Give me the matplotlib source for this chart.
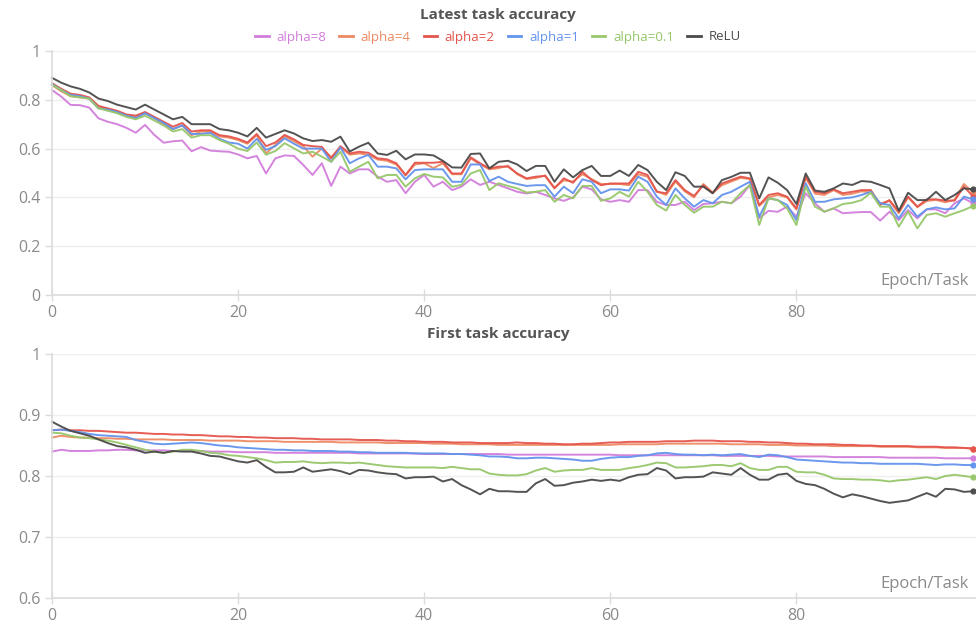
"""Latest / first task accuracy over epochs for several activation settings."""

import matplotlib
matplotlib.use('Agg')
import matplotlib.pyplot as plt
from matplotlib.lines import Line2D
import numpy

EPOCHS = numpy.arange(100)

LABELS = ['alpha=8', 'alpha=4', 'alpha=2', 'alpha=1', 'alpha=0.1', 'ReLU']
COLORS = ['#d27ddb', '#ec8a63', '#e4544c', '#6393ec', '#97c76a', '#4a4a4a']

# latest task accuracy
LATEST_A8 = [
    0.84, 0.813, 0.779, 0.778, 0.768, 0.724, 0.71, 0.70, 0.685, 0.665,
    0.697, 0.656, 0.624, 0.63, 0.633, 0.589, 0.606, 0.592, 0.589, 0.587,
    0.576, 0.56, 0.57, 0.498, 0.56, 0.572, 0.57, 0.533, 0.492, 0.54,
    0.447, 0.526, 0.498, 0.515, 0.515, 0.485, 0.464, 0.471, 0.417, 0.464,
    0.492, 0.444, 0.464, 0.43, 0.444, 0.474, 0.451, 0.464, 0.451, 0.437,
    0.423, 0.416, 0.423, 0.41, 0.396, 0.386, 0.40, 0.444, 0.433, 0.392,
    0.382, 0.389, 0.382, 0.43, 0.43, 0.382, 0.369, 0.369, 0.382, 0.348,
    0.373, 0.376, 0.382, 0.376, 0.403, 0.451, 0.314, 0.345, 0.341, 0.362,
    0.321, 0.417, 0.376, 0.341, 0.355, 0.335, 0.338, 0.34, 0.34, 0.305,
    0.341, 0.307, 0.348, 0.314, 0.351, 0.351, 0.335, 0.376, 0.396, 0.376]
LATEST_A4 = [
    0.86, 0.835, 0.815, 0.81, 0.805, 0.77, 0.76, 0.75, 0.735, 0.73,
    0.745, 0.725, 0.70, 0.68, 0.695, 0.655, 0.67, 0.67, 0.65, 0.645,
    0.635, 0.62, 0.655, 0.58, 0.615, 0.65, 0.63, 0.61, 0.567, 0.60,
    0.565, 0.605, 0.575, 0.58, 0.575, 0.555, 0.55, 0.535, 0.49, 0.535,
    0.54, 0.52, 0.54, 0.495, 0.495, 0.56, 0.535, 0.515, 0.52, 0.53,
    0.495, 0.475, 0.48, 0.49, 0.44, 0.47, 0.465, 0.495, 0.475, 0.455,
    0.455, 0.455, 0.45, 0.495, 0.485, 0.425, 0.41, 0.465, 0.425, 0.40,
    0.455, 0.42, 0.45, 0.465, 0.48, 0.475, 0.365, 0.40, 0.41, 0.40,
    0.35, 0.48, 0.415, 0.41, 0.43, 0.41, 0.415, 0.425, 0.42, 0.375,
    0.385, 0.335, 0.40, 0.36, 0.385, 0.39, 0.38, 0.39, 0.455, 0.42]
LATEST_A2 = [
    0.868, 0.845, 0.825, 0.82, 0.81, 0.775, 0.765, 0.755, 0.74, 0.735,
    0.75, 0.73, 0.71, 0.69, 0.705, 0.67, 0.675, 0.675, 0.655, 0.65,
    0.64, 0.625, 0.66, 0.61, 0.625, 0.656, 0.638, 0.615, 0.61, 0.607,
    0.56, 0.61, 0.58, 0.587, 0.583, 0.56, 0.556, 0.54, 0.492, 0.542,
    0.542, 0.542, 0.546, 0.498, 0.498, 0.564, 0.54, 0.519, 0.526, 0.526,
    0.498, 0.478, 0.485, 0.488, 0.437, 0.478, 0.46, 0.505, 0.471, 0.45,
    0.457, 0.457, 0.457, 0.505, 0.492, 0.423, 0.417, 0.471, 0.43, 0.406,
    0.45, 0.417, 0.457, 0.471, 0.485, 0.478, 0.369, 0.41, 0.417, 0.403,
    0.355, 0.485, 0.423, 0.417, 0.433, 0.417, 0.423, 0.43, 0.43, 0.369,
    0.389, 0.342, 0.403, 0.362, 0.392, 0.392, 0.387, 0.387, 0.444, 0.403]
LATEST_A1 = [
    0.865, 0.84, 0.82, 0.815, 0.805, 0.765, 0.76, 0.75, 0.735, 0.725,
    0.745, 0.725, 0.705, 0.68, 0.695, 0.66, 0.66, 0.665, 0.64, 0.625,
    0.62, 0.60, 0.64, 0.595, 0.61, 0.642, 0.62, 0.60, 0.60, 0.60,
    0.546, 0.605, 0.54, 0.56, 0.574, 0.526, 0.526, 0.519, 0.474, 0.512,
    0.515, 0.515, 0.515, 0.464, 0.464, 0.535, 0.535, 0.467, 0.485, 0.464,
    0.455, 0.447, 0.45, 0.45, 0.403, 0.444, 0.417, 0.474, 0.464, 0.417,
    0.433, 0.433, 0.428, 0.485, 0.464, 0.403, 0.369, 0.437, 0.396, 0.362,
    0.389, 0.376, 0.41, 0.423, 0.444, 0.464, 0.321, 0.396, 0.389, 0.369,
    0.307, 0.458, 0.382, 0.382, 0.392, 0.396, 0.40, 0.41, 0.423, 0.376,
    0.369, 0.314, 0.369, 0.321, 0.351, 0.359, 0.351, 0.355, 0.403, 0.392]
LATEST_A01 = [
    0.862, 0.84, 0.815, 0.81, 0.805, 0.765, 0.755, 0.745, 0.73, 0.72,
    0.735, 0.715, 0.695, 0.67, 0.68, 0.645, 0.655, 0.655, 0.635, 0.62,
    0.60, 0.59, 0.625, 0.575, 0.59, 0.622, 0.601, 0.58, 0.587, 0.567,
    0.546, 0.587, 0.505, 0.526, 0.546, 0.478, 0.492, 0.492, 0.444, 0.478,
    0.496, 0.485, 0.482, 0.444, 0.451, 0.498, 0.512, 0.43, 0.458, 0.447,
    0.437, 0.42, 0.423, 0.43, 0.382, 0.41, 0.396, 0.447, 0.447, 0.386,
    0.396, 0.423, 0.403, 0.464, 0.423, 0.369, 0.346, 0.41, 0.369, 0.337,
    0.362, 0.362, 0.382, 0.376, 0.417, 0.451, 0.287, 0.396, 0.389, 0.355,
    0.287, 0.444, 0.362, 0.342, 0.355, 0.373, 0.378, 0.389, 0.419, 0.362,
    0.362, 0.28, 0.342, 0.273, 0.328, 0.335, 0.321, 0.335, 0.348, 0.365]
LATEST_RELU = [
    0.89, 0.87, 0.855, 0.845, 0.83, 0.805, 0.795, 0.78, 0.77, 0.76,
    0.78, 0.76, 0.74, 0.72, 0.73, 0.70, 0.70, 0.70, 0.68, 0.675,
    0.665, 0.65, 0.685, 0.645, 0.66, 0.675, 0.662, 0.642, 0.631, 0.635,
    0.628, 0.649, 0.588, 0.608, 0.624, 0.58, 0.574, 0.591, 0.556, 0.576,
    0.576, 0.572, 0.55, 0.523, 0.522, 0.578, 0.58, 0.519, 0.546, 0.55,
    0.535, 0.508, 0.529, 0.529, 0.464, 0.515, 0.482, 0.512, 0.529, 0.488,
    0.488, 0.51, 0.488, 0.533, 0.512, 0.464, 0.43, 0.503, 0.488, 0.444,
    0.444, 0.417, 0.471, 0.484, 0.501, 0.501, 0.396, 0.482, 0.46, 0.43,
    0.373, 0.498, 0.428, 0.423, 0.437, 0.457, 0.451, 0.467, 0.464, 0.451,
    0.437, 0.345, 0.419, 0.389, 0.389, 0.423, 0.389, 0.41, 0.437, 0.433]

# first task accuracy
FIRST_A8 = [
    0.840, 0.843, 0.841, 0.841, 0.841, 0.842, 0.842, 0.843, 0.843, 0.842,
    0.842, 0.842, 0.842, 0.841, 0.841, 0.841, 0.841, 0.840, 0.840, 0.840,
    0.839, 0.839, 0.839, 0.839, 0.838, 0.838, 0.838, 0.838, 0.838, 0.838,
    0.838, 0.838, 0.838, 0.837, 0.837, 0.837, 0.837, 0.837, 0.837, 0.837,
    0.836, 0.836, 0.836, 0.836, 0.836, 0.836, 0.836, 0.836, 0.836, 0.835,
    0.835, 0.835, 0.835, 0.835, 0.835, 0.835, 0.835, 0.835, 0.835, 0.835,
    0.835, 0.834, 0.834, 0.834, 0.834, 0.834, 0.834, 0.834, 0.834, 0.834,
    0.834, 0.834, 0.833, 0.833, 0.833, 0.833, 0.833, 0.833, 0.832, 0.832,
    0.832, 0.832, 0.832, 0.832, 0.831, 0.831, 0.831, 0.831, 0.831, 0.831,
    0.830, 0.830, 0.830, 0.830, 0.830, 0.830, 0.829, 0.829, 0.829, 0.829]
FIRST_A4 = [
    0.863, 0.866, 0.864, 0.863, 0.863, 0.862, 0.862, 0.861, 0.861, 0.860,
    0.860, 0.860, 0.860, 0.859, 0.859, 0.859, 0.859, 0.858, 0.858, 0.858,
    0.858, 0.857, 0.857, 0.857, 0.857, 0.856, 0.856, 0.856, 0.856, 0.856,
    0.856, 0.855, 0.855, 0.855, 0.855, 0.855, 0.854, 0.854, 0.854, 0.854,
    0.854, 0.853, 0.853, 0.853, 0.852, 0.852, 0.852, 0.852, 0.851, 0.851,
    0.851, 0.851, 0.851, 0.851, 0.851, 0.851, 0.851, 0.851, 0.851, 0.851,
    0.851, 0.852, 0.852, 0.852, 0.852, 0.852, 0.853, 0.853, 0.853, 0.853,
    0.853, 0.853, 0.853, 0.852, 0.852, 0.852, 0.852, 0.851, 0.851, 0.851,
    0.850, 0.850, 0.850, 0.850, 0.849, 0.849, 0.849, 0.849, 0.849, 0.848,
    0.848, 0.848, 0.848, 0.847, 0.847, 0.847, 0.846, 0.846, 0.846, 0.845]
FIRST_A2 = [
    0.875, 0.876, 0.875, 0.875, 0.874, 0.874, 0.873, 0.872, 0.871, 0.871,
    0.870, 0.869, 0.869, 0.868, 0.868, 0.867, 0.867, 0.866, 0.865, 0.865,
    0.864, 0.864, 0.863, 0.863, 0.862, 0.862, 0.862, 0.861, 0.861, 0.860,
    0.860, 0.860, 0.860, 0.859, 0.859, 0.859, 0.858, 0.858, 0.857, 0.857,
    0.856, 0.856, 0.856, 0.855, 0.855, 0.855, 0.854, 0.854, 0.854, 0.854,
    0.855, 0.854, 0.854, 0.853, 0.853, 0.852, 0.852, 0.853, 0.853, 0.854,
    0.855, 0.855, 0.856, 0.856, 0.856, 0.856, 0.857, 0.857, 0.857, 0.858,
    0.858, 0.858, 0.857, 0.857, 0.857, 0.856, 0.856, 0.855, 0.855, 0.854,
    0.853, 0.853, 0.852, 0.852, 0.852, 0.851, 0.851, 0.850, 0.850, 0.849,
    0.849, 0.849, 0.849, 0.848, 0.848, 0.848, 0.847, 0.847, 0.846, 0.845]
FIRST_A1 = [
    0.875, 0.876, 0.874, 0.872, 0.869, 0.867, 0.866, 0.865, 0.864, 0.859,
    0.856, 0.853, 0.852, 0.853, 0.854, 0.855, 0.854, 0.852, 0.850, 0.849,
    0.847, 0.846, 0.845, 0.844, 0.843, 0.843, 0.842, 0.842, 0.841, 0.841,
    0.841, 0.840, 0.840, 0.839, 0.839, 0.838, 0.838, 0.838, 0.838, 0.837,
    0.837, 0.837, 0.837, 0.836, 0.836, 0.835, 0.834, 0.832, 0.832, 0.831,
    0.829, 0.829, 0.830, 0.830, 0.829, 0.828, 0.827, 0.825, 0.825, 0.828,
    0.830, 0.831, 0.831, 0.833, 0.834, 0.837, 0.838, 0.836, 0.835, 0.835,
    0.834, 0.835, 0.834, 0.835, 0.836, 0.833, 0.831, 0.835, 0.834, 0.831,
    0.827, 0.826, 0.825, 0.824, 0.823, 0.822, 0.822, 0.821, 0.821, 0.820,
    0.820, 0.820, 0.820, 0.820, 0.819, 0.818, 0.819, 0.819, 0.818, 0.818]
FIRST_A01 = [
    0.871, 0.870, 0.866, 0.863, 0.862, 0.860, 0.858, 0.855, 0.851, 0.847,
    0.843, 0.840, 0.838, 0.840, 0.843, 0.843, 0.841, 0.838, 0.837, 0.834,
    0.833, 0.831, 0.829, 0.826, 0.822, 0.823, 0.823, 0.824, 0.822, 0.821,
    0.822, 0.822, 0.821, 0.822, 0.820, 0.818, 0.816, 0.815, 0.814, 0.814,
    0.814, 0.814, 0.813, 0.815, 0.813, 0.811, 0.811, 0.804, 0.802, 0.801,
    0.801, 0.803, 0.809, 0.813, 0.807, 0.809, 0.810, 0.810, 0.813, 0.810,
    0.810, 0.810, 0.813, 0.815, 0.818, 0.822, 0.821, 0.814, 0.814, 0.815,
    0.816, 0.818, 0.818, 0.816, 0.821, 0.813, 0.810, 0.810, 0.815, 0.815,
    0.807, 0.806, 0.806, 0.802, 0.796, 0.795, 0.795, 0.794, 0.794, 0.793,
    0.791, 0.793, 0.794, 0.796, 0.798, 0.795, 0.800, 0.802, 0.800, 0.798]
FIRST_RELU = [
    0.889, 0.881, 0.874, 0.870, 0.866, 0.860, 0.854, 0.849, 0.847, 0.843,
    0.838, 0.840, 0.838, 0.841, 0.840, 0.840, 0.837, 0.833, 0.832, 0.828,
    0.824, 0.822, 0.826, 0.815, 0.806, 0.806, 0.807, 0.814, 0.807, 0.809,
    0.811, 0.808, 0.803, 0.810, 0.809, 0.806, 0.804, 0.803, 0.796, 0.798,
    0.798, 0.799, 0.791, 0.795, 0.785, 0.778, 0.770, 0.779, 0.775, 0.775,
    0.774, 0.774, 0.788, 0.795, 0.784, 0.785, 0.789, 0.791, 0.794, 0.792,
    0.794, 0.792, 0.798, 0.802, 0.803, 0.813, 0.809, 0.796, 0.798, 0.798,
    0.799, 0.806, 0.804, 0.802, 0.813, 0.802, 0.794, 0.794, 0.802, 0.804,
    0.792, 0.787, 0.785, 0.779, 0.771, 0.765, 0.770, 0.767, 0.763, 0.759,
    0.756, 0.758, 0.760, 0.766, 0.772, 0.766, 0.779, 0.778, 0.774, 0.775]

LATEST = [LATEST_A8, LATEST_A4, LATEST_A2, LATEST_A1, LATEST_A01, LATEST_RELU]
FIRST = [FIRST_A8, FIRST_A4, FIRST_A2, FIRST_A1, FIRST_A01, FIRST_RELU]

plt.rcParams['font.family'] = ['Open Sans', 'DejaVu Sans']
TICK_COLOR = '#8a8a8a'
AXIS_COLOR = '#dcdcdc'


def _format_ax(ax, ymin, ystep):
    """Common look of both panels."""
    ax.set_xlim(0, 99.3)
    ax.set_ylim(ymin, 1.0)
    ax.set_xticks(numpy.arange(0, 100, 20))
    ax.set_yticks(numpy.arange(ymin, 1.0001, ystep))
    ax.set_yticklabels(['%g' % round(v, 2) for v in ax.get_yticks()])
    for side in ('top', 'right'):
        ax.spines[side].set_visible(False)
    for side in ('left', 'bottom'):
        ax.spines[side].set_color(AXIS_COLOR)
        ax.spines[side].set_linewidth(1.2)
    ax.tick_params(axis='both', colors=AXIS_COLOR, labelcolor=TICK_COLOR,
                   labelsize=11.5, width=1, length=5)
    ax.tick_params(axis='x', direction='inout', length=8, pad=3)
    ax.grid(True, axis='y', color='#efefef', linewidth=1)
    ax.set_axisbelow(True)
    ax.text(0.992, 0.025, 'Epoch/Task', transform=ax.transAxes,
            ha='right', va='bottom', color=TICK_COLOR, fontsize=12)


def _draw(ax, series):
    for values, label, color in zip(series, LABELS, COLORS):
        ax.plot(EPOCHS, values, color=color, lw=1.4, alpha=0.95,
                label=label, marker='o', markersize=3.5,
                markevery=[len(values) - 1], clip_on=False)


fig = plt.figure(figsize=(9.76, 6.3), dpi=100)
ax_top = fig.add_axes([52 / 976, 1 - 295 / 630, 1 - 52 / 976, 244 / 630])
ax_bot = fig.add_axes([52 / 976, 1 - 598 / 630, 1 - 52 / 976, 244 / 630])

_draw(ax_top, LATEST)
_draw(ax_bot, FIRST)
_format_ax(ax_top, 0.0, 0.2)
_format_ax(ax_bot, 0.6, 0.1)

fig.text(498 / 976, 1 - 15 / 630, 'Latest task accuracy', ha='center',
         va='center', fontsize=11, fontweight='bold', color='#555555')
fig.text(498 / 976, 1 - 334 / 630, 'First task accuracy', ha='center',
         va='center', fontsize=11, fontweight='bold', color='#555555')

# legend entries are plain line segments, no end-point dots
handles = [Line2D([], [], color=c, lw=2) for c in COLORS]
fig.legend(handles, LABELS, loc='center', bbox_to_anchor=(498 / 976, 1 - 37 / 630),
           ncol=6, frameon=False, fontsize=9.5, handlelength=1.0,
           handletextpad=0.6, columnspacing=1.0, labelcolor='linecolor')

fig.savefig('out.png', dpi=100)
